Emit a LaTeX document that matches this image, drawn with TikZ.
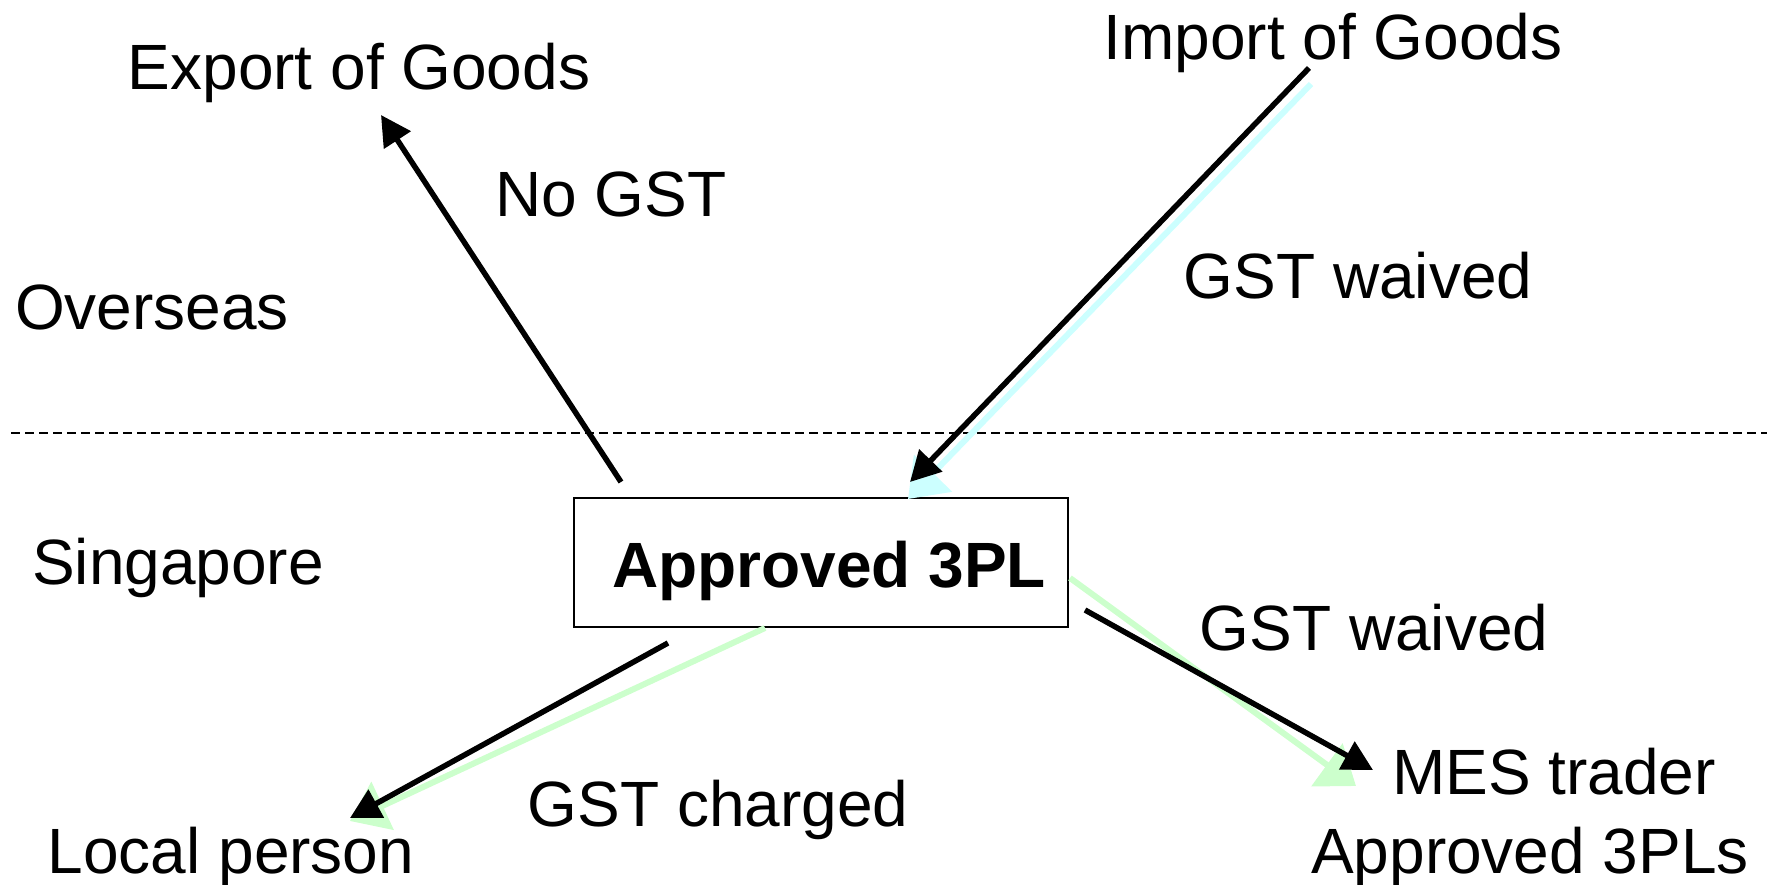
\documentclass[tikz,border=0pt]{standalone}
\usepackage{fontspec}
\setmainfont{Liberation Sans}
\usetikzlibrary{arrows.meta}
\definecolor{shcyan}{HTML}{CCFFFF}
\definecolor{shgreen}{HTML}{CCFFCC}
\tikzset{
  lbl/.style={anchor=base, inner sep=0pt, font=\fontsize{64}{72}\selectfont},
  blk/.style={line width=5.5pt, -{Triangle[length=30pt,width=31pt]}},
  shd/.style={line width=6pt, -{Triangle[length=36pt,width=52pt]}},
}
\begin{document}
\begin{tikzpicture}[x=1pt,y=-1pt]
\useasboundingbox (0,0) rectangle (1767,885);
% dashed separator
\coordinate (dl) at (11,433);
\coordinate (dr) at (1767,433);
\draw[dashed, line width=1.4pt, dash pattern=on 9pt off 5pt] (dl) -- (dr);
% central box
\node[draw, line width=1.6pt, minimum width=494pt, minimum height=129pt, inner sep=0pt] (box) at (821,562.5) {};
\node[lbl, font=\fontsize{64}{72}\selectfont\bfseries] (ap) at (829,587) {Approved 3PL};
% labels
\node[lbl] (exp) at (359,90) {Export of Goods};
\node[lbl] (imp) at (1333,60) {Import of Goods};
\node[lbl] (nogst) at (611,217) {No GST};
\node[lbl] (ovs) at (152,330) {Overseas};
\node[lbl] (gw1) at (1358,299) {GST waived};
\node[lbl] (sg) at (178,584) {Singapore};
\node[lbl] (gw2) at (1374,650) {GST waived};
\node[lbl] (mes) at (1554,794) {MES trader};
\node[lbl] (ap3) at (1530,873) {Approved 3PLs};
\node[lbl] (gc) at (718,826) {GST charged};
\node[lbl] (lp) at (231,873) {Local person};
% coordinates of arrow ends
\coordinate (e1) at (621,482); \coordinate (e2) at (381,115);
\coordinate (i1) at (1309,68);  \coordinate (i2) at (910,482);
\coordinate (ic1) at (1311,84); \coordinate (ic2) at (908,499);
\coordinate (l1) at (668,643);  \coordinate (l2) at (350,818);
\coordinate (lg1) at (765,628); \coordinate (lg2) at (350,821);
\coordinate (m1) at (1085,610); \coordinate (m2) at (1373,770);
\coordinate (mg1) at (1070,578); \coordinate (mg2) at (1356,786);
% shadow arrows
\draw[shd, shcyan] (ic1) -- (ic2);
\draw[shd, shgreen] (lg1) -- (lg2);
\draw[shd, shgreen] (mg1) -- (mg2);
% black arrows
\draw[blk] (e1) -- (e2);
\draw[blk] (i1) -- (i2);
\draw[blk] (l1) -- (l2);
\draw[blk] (m1) -- (m2);
\end{tikzpicture}
\end{document}
